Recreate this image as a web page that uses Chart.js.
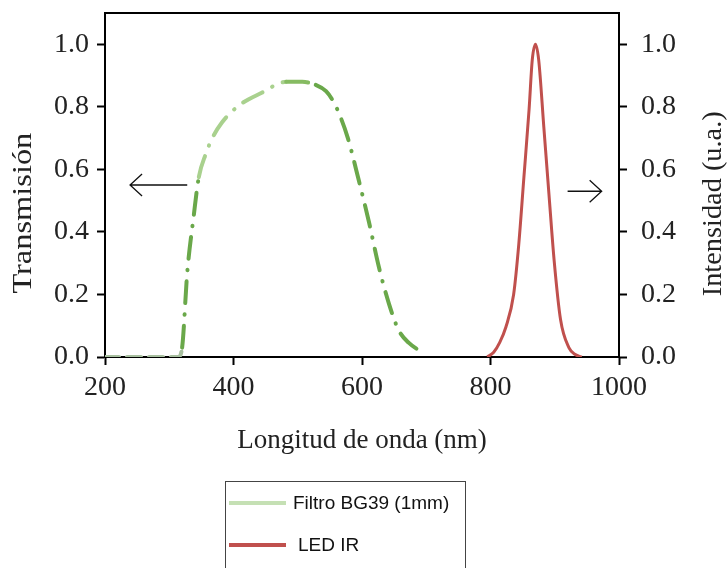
<!DOCTYPE html>
<html lang="es">
<head>
  <meta charset="UTF-8">
  <script src="https://cdn.jsdelivr.net/npm/chart.js"></script>
  <style>
    body {
      margin: 0;
      background: #fff;
    }

    .wrap {
      position: relative;
      width: 728px;
      height: 568px;
    }

    #legend {
      position: absolute;
      left: 225px;
      top: 481px;
      width: 241px;
      height: 100px;
      border: 1px solid #444;
      box-sizing: border-box;
      font-family: 'Liberation Sans', Arial, sans-serif;
      font-size: 19px;
      color: #111;
    }

    .item {
      position: absolute;
      left: 3px;
      display: flex;
      align-items: center;
      transform: translateY(-50%);
    }

    .swatch {
      width: 57px;
      height: 4px;
      margin-right: 7px;
    }
  </style>
  <title>Filtro BG39 y LED IR</title>
</head>

<body>
  <div class="wrap">
    <canvas id="chart" width="728" height="568"></canvas>
    <div id="legend"></div>
  </div>
  <script>
    // filter transmission curve (left axis)
    const filterWavelength = [200, 250, 300, 314, 320, 328, 338, 346, 357, 367, 382, 409, 444, 482, 507, 528, 544, 556, 566, 578, 595, 611, 626, 642, 657, 673, 698];
    const filterTransmission = [0, 0, 0, 0, 0.03, 0.27, 0.45, 0.575, 0.65, 0.70, 0.75, 0.805, 0.845, 0.88, 0.88, 0.87, 0.85, 0.815, 0.77, 0.70, 0.565, 0.43, 0.29, 0.17, 0.086, 0.045, 0.01];

    // LED emission (right axis)
    const ledWavelength = [795, 805, 814, 824, 836, 844, 852, 860, 865, 870, 875, 883, 891, 899, 909, 922, 932, 942];
    const ledIntensity = [0, 0.015, 0.045, 0.096, 0.20, 0.36, 0.575, 0.79, 0.95, 1.0, 0.95, 0.735, 0.52, 0.31, 0.12, 0.03, 0.008, 0];

    const seriesNames = ['Filtro BG39 (1mm)', 'LED IR'];
    const legendColors = ['#c5e0b4', '#c0504d'];

    const xTicks = [200, 400, 600, 800, 1000];
    const yTicks = [0, 0.2, 0.4, 0.6, 0.8, 1.0];

    const serif = "'Liberation Serif', 'Times New Roman', serif";
    const tickFont = { family: serif, size: 28 };

    function toPoints(xs, ys) {
      return xs.map((x, i) => ({ x: x, y: ys[i] }));
    }

    function greenShade(ctx) {
      const x = ctx.p0.parsed.x;
      if (x < 316) return '#a7bf9f';
      if (x >= 340 && x < 455) return '#a9d18e';
      if (x >= 455 && x < 520) return '#86bb62';
      return '#6aa84a';
    }

    function drawArrow(ctx, x0, x1, y) {
      const dir = x1 > x0 ? -1 : 1;
      ctx.beginPath();
      ctx.moveTo(x0, y);
      ctx.lineTo(x1, y);
      ctx.moveTo(x1 + dir * 12, y - 11);
      ctx.lineTo(x1, y);
      ctx.lineTo(x1 + dir * 12, y + 11);
      ctx.stroke();
    }

    function verticalText(ctx, text, x, y, stretch) {
      ctx.save();
      ctx.translate(x, y);
      ctx.rotate(-Math.PI / 2);
      ctx.scale(stretch, 1);
      ctx.fillText(text, 0, 0);
      ctx.restore();
    }

    const extras = {
      id: 'extras',
      afterDraw(chart) {
        const { ctx, chartArea: a, scales } = chart;
        ctx.save();
        ctx.strokeStyle = '#000';
        ctx.lineWidth = 2;
        ctx.beginPath();
        ctx.moveTo(a.left - 1, a.top);
        ctx.lineTo(a.right + 1, a.top);
        ctx.stroke();

        // arrows telling which axis each curve uses
        ctx.lineWidth = 1.3;
        ctx.strokeStyle = '#111';
        drawArrow(ctx, scales.x.getPixelForValue(328), scales.x.getPixelForValue(239), scales.y.getPixelForValue(0.55));
        drawArrow(ctx, scales.x.getPixelForValue(920), scales.x.getPixelForValue(973), scales.y1.getPixelForValue(0.53));

        ctx.fillStyle = '#222';
        ctx.font = '27px ' + serif;
        ctx.textAlign = 'center';
        ctx.textBaseline = 'middle';
        verticalText(ctx, 'Transmisión', 24, scales.y.getPixelForValue(0.46), 1.2);
        verticalText(ctx, 'Intensidad (u.a.)', 714, scales.y1.getPixelForValue(0.49), 1.05);
        ctx.restore();
      }
    };

    function axisStyle(extra) {
      return Object.assign({
        border: { display: true, color: '#000', width: 2 },
        grid: { drawOnChartArea: false, drawTicks: true, tickLength: 8, tickColor: '#000', tickWidth: 2 },
      }, extra);
    }

    function yAxis(position, width, padding) {
      return axisStyle({
        type: 'linear',
        position: position,
        min: 0,
        max: 1.1,
        afterBuildTicks: s => { s.ticks = yTicks.map(v => ({ value: v })); },
        afterFit: s => {
          s.width = width;
          s.paddingTop = 0;
          s.paddingBottom = 0;
        },
        ticks: {
          font: tickFont,
          color: '#222',
          padding: padding,
          callback: v => v.toFixed(1)
        }
      });
    }

    new Chart(document.getElementById('chart'), {
      type: 'line',
      data: {
        datasets: [{
          label: seriesNames[0],
          data: toPoints(filterWavelength, filterTransmission),
          yAxisID: 'y',
          borderColor: '#6aa84a',
          borderWidth: 4,
          borderDash: [22, 11, 0.5, 11],
          borderCapStyle: 'round',
          cubicInterpolationMode: 'monotone',
          pointRadius: 0,
          segment: {
            borderColor: greenShade,
            borderDash: ctx => ctx.p0.parsed.x < 316 ? [14, 8] : undefined
          }
        }, {
          label: seriesNames[1],
          data: toPoints(ledWavelength, ledIntensity),
          yAxisID: 'y1',
          borderColor: '#c0504d',
          borderWidth: 3,
          cubicInterpolationMode: 'monotone',
          pointRadius: 0
        }]
      },
      options: {
        responsive: false,
        animation: false,
        layout: { padding: { top: 13, bottom: 111, left: 0, right: 0 } },
        plugins: {
          legend: { display: false },
          tooltip: { enabled: false }
        },
        scales: {
          x: axisStyle({
            type: 'linear',
            min: 200,
            max: 1000,
            afterBuildTicks: s => { s.ticks = xTicks.map(v => ({ value: v })); },
            afterFit: s => {
              s.height = 100;
              s.paddingLeft = 0;
              s.paddingRight = 0;
            },
            ticks: { font: tickFont, color: '#222', padding: 6, callback: v => String(v) },
            title: {
              display: true,
              text: 'Longitud de onda (nm)',
              font: { family: serif, size: 27 },
              color: '#222',
              padding: 0
            }
          }),
          y: yAxis('left', 105, 8),
          y1: yAxis('right', 109, 14)
        }
      },
      plugins: [extras]
    });

    const legend = document.getElementById('legend');
    seriesNames.forEach((name, i) => {
      const item = document.createElement('div');
      item.className = 'item';
      item.style.top = (21 + i * 42) + 'px';
      item.innerHTML = '<span class="swatch" style="background:' + legendColors[i] + '"></span><span style="margin-left:' + (i * 5) + 'px">' + name + '</span>';
      legend.appendChild(item);
    });
  </script>
</body>

</html>
